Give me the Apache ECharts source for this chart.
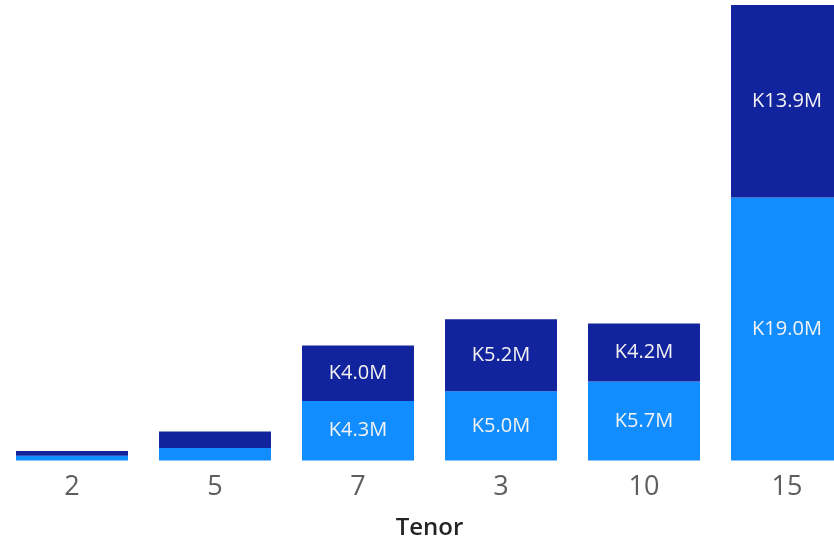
<!DOCTYPE html>
<html>
<head>
<meta charset="utf-8">
<script src="https://cdn.jsdelivr.net/npm/echarts@6/dist/echarts.min.js"></script>
<style>
html,body{margin:0;padding:0;background:#fff;}
#c{width:834px;height:539px;}
</style>
</head>
<body>
<div id="c"></div>
<script>
const categories = ['2', '5', '7', '3', '10', '15'];
const lowerValues = [0.35, 0.9, 4.3, 5.0, 5.7, 19.0];
const upperValues = [0.34, 1.2, 4.0, 5.2, 4.2, 13.9];
const axisTitle = 'Tenor';

const yMax = Math.max(...lowerValues.map((v, i) => v + upperValues[i]));
const fmt = p => p.value >= 2 ? 'K' + p.value.toFixed(1) + 'M' : '';

const chart = echarts.init(document.getElementById('c'));
const labelStyle = {
  show: true, position: 'inside', formatter: fmt,
  color: '#F3F3F3', fontSize: 20, fontFamily: 'Open Sans'
};
chart.setOption({
  animation: false,
  grid: { left: 0.5, top: 5, width: 858, height: 455.5, containLabel: false, outerBoundsMode: 'none' },
  xAxis: {
    type: 'category', data: categories,
    axisLine: { show: false }, axisTick: { show: false },
    axisLabel: { color: '#605E5C', fontSize: 27, fontFamily: 'Open Sans', margin: 13 },
    name: axisTitle, nameLocation: 'middle', nameGap: 56,
    nameTextStyle: { color: '#252423', fontSize: 24, fontFamily: 'Open Sans', fontWeight: 600 }
  },
  yAxis: { type: 'value', show: false, min: 0, max: yMax, splitLine: { show: false } },
  series: [
    { type: 'bar', stack: 'a', data: lowerValues, barCategoryGap: '21.7%',
      itemStyle: { color: '#118DFF' }, label: labelStyle },
    { type: 'bar', stack: 'a', data: upperValues,
      itemStyle: { color: '#12239E' }, label: labelStyle }
  ]
});
</script>
</body>
</html>
